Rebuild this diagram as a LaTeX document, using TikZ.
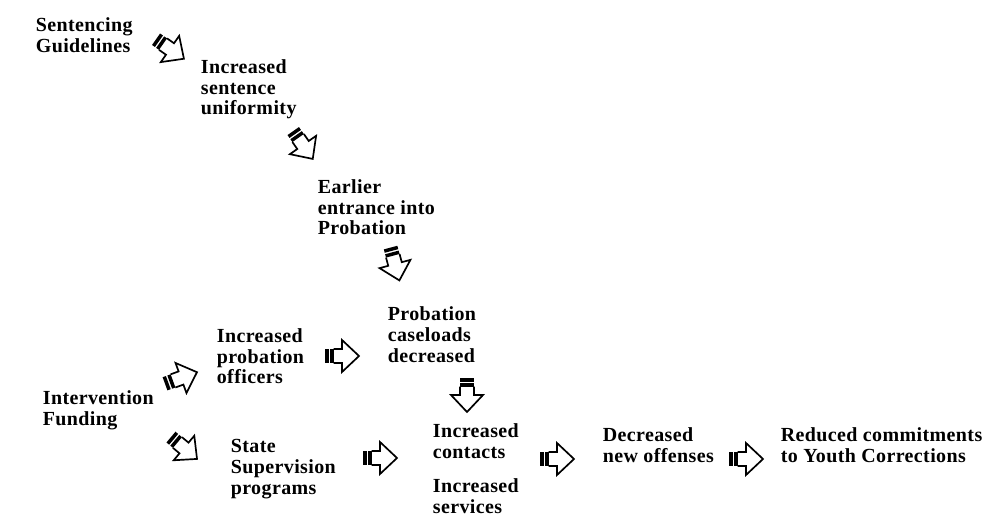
\documentclass[tikz,border=0pt]{standalone}
\usepackage{fontspec}
\setmainfont{Liberation Serif}[LetterSpace=2]
\tikzset{
  lbl/.style={anchor=base west, align=left, inner sep=0pt,
    font=\bfseries\fontsize{14.2}{14.6}\selectfont},
  pics/blockarr/.style={code={
    \fill (-17,-7) rectangle (-13.5,7);
    \fill (-12,-7) rectangle (-8.5,7);
    \draw[line join=miter] (-8.5,7)--(0,7)--(0,16)--(17,0)--(0,-16)--(0,-7)--(-8.5,-7);
  }},
}
\begin{document}
\begin{tikzpicture}[x=.025cm, y=-.025cm, line width=1.2pt]
\useasboundingbox (0,0) rectangle (1000,524);
% anchors sit on the last line
\node[lbl] (guide) at (35,52.5) {Sentencing\\Guidelines};
\node[lbl] (unif) at (200,115) {Increased\\sentence\\uniformity};
\node[lbl] (entr) at (317,235) {Earlier\\entrance into\\Probation};
\node[lbl] (caseld) at (387,362) {Probation\\caseloads\\decreased};
\node[lbl] (offi) at (216,384) {Increased\\probation\\officers};
\node[lbl] (fund) at (42,425.5) {Intervention\\Funding};
\node[lbl] (state) at (230,494) {State\\Supervision\\programs};
\node[lbl] (cont) at (432,458.5) {Increased\\contacts};
\node[lbl] (serv) at (432,513) {Increased\\services};
\node[lbl] (offn) at (602,462) {Decreased\\new offenses};
\node[lbl] (redu) at (780,462) {Reduced commitments\\to Youth Corrections};
% block arrows
\pic[rotate=-35] at (170,49) {blockarr};
\pic[rotate=-55] at (303,145) {blockarr};
\pic[rotate=-75] at (395,264) {blockarr};
\pic[rotate=20] at (181,378) {blockarr};
\pic at (342,356) {blockarr};
\pic[rotate=-90] at (467,395) {blockarr};
\pic[rotate=-40] at (184,448) {blockarr};
\pic at (380,458) {blockarr};
\pic at (557,459) {blockarr};
\pic at (746,459) {blockarr};
\end{tikzpicture}
\end{document}
